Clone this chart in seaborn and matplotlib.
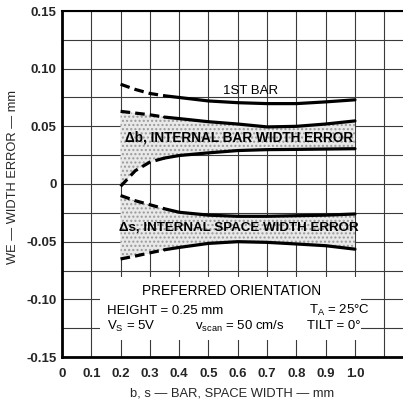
import matplotlib
matplotlib.use("Agg")
import matplotlib.pyplot as plt
import seaborn as sns
import numpy as np
import pandas as pd
from matplotlib.patches import Rectangle

# ---- data ----
width_mm = [0.2, 0.25, 0.3, 0.35, 0.4, 0.5, 0.6, 0.7, 0.8, 0.9, 1.0]
first_bar = [0.0865, 0.082, 0.0785, 0.0765, 0.075, 0.072, 0.0705, 0.0697, 0.0697, 0.0712, 0.073]
bar_upper = [0.063, 0.0615, 0.060, 0.058, 0.0567, 0.054, 0.052, 0.0495, 0.050, 0.052, 0.0547]
bar_lower = [-0.002, 0.0115, 0.019, 0.0225, 0.0247, 0.027, 0.029, 0.0298, 0.030, 0.0303, 0.0306]
space_upper = [-0.010, -0.0145, -0.018, -0.0215, -0.0245, -0.027, -0.028, -0.028, -0.0275, -0.027, -0.026]
space_lower = [-0.065, -0.0625, -0.0597, -0.057, -0.055, -0.0515, -0.050, -0.0506, -0.052, -0.0535, -0.0565]
n_dashed = 4  # first points drawn dashed (extrapolated part)

x_ticks = [0, 0.1, 0.2, 0.3, 0.4, 0.5, 0.6, 0.7, 0.8, 0.9, 1.0]
x_tick_labels = ["0", "0.1", "0.2", "0.3", "0.4", "0.5", "0.6", "0.7", "0.8", "0.9", "1.0"]
y_ticks = [-0.15, -0.10, -0.05, 0, 0.05, 0.10, 0.15]
y_tick_labels = ["-0.15", "-0.10", "-0.05", "0", "0.05", "0.10", "0.15"]

sns.set_theme(style="white")
plt.rcParams["font.family"] = ["Liberation Sans", "DejaVu Sans"]

fig = plt.figure(figsize=(4.03, 4.03), dpi=100)
ax = fig.add_axes([62 / 403, 46 / 403, 341 / 403, 346 / 403])

df = pd.DataFrame({"x": width_mm, "first": first_bar, "bu": bar_upper, "bl": bar_lower,
                   "su": space_upper, "sl": space_lower})

# shaded error bands
for lo, hi in (("bl", "bu"), ("sl", "su")):
    ax.fill_between(df["x"], df[lo], df[hi], facecolor="#e9e9e9", edgecolor="#9a9a9a",
                    hatch="....", linewidth=0, zorder=1)

for col in ("first", "bu", "bl", "su", "sl"):
    dpart = df.iloc[:n_dashed]
    spart = df.iloc[n_dashed - 1:]
    sns.lineplot(x=dpart["x"], y=dpart[col], ax=ax, color="black", lw=2.3,
                 linestyle=(0, (3, 1.6)), zorder=3)
    sns.lineplot(x=spart["x"], y=spart[col], ax=ax, color="black", lw=2.3, zorder=3)

ax.set_xlim(0, 1.164)
ax.set_ylim(-0.15, 0.15)
ax.set_xticks(x_ticks + [1.1])
ax.set_xticklabels(x_tick_labels + [""])
ax.set_yticks(y_ticks)
ax.set_yticklabels(y_tick_labels)
ax.set_yticks([-0.125, -0.075, -0.025, 0.025, 0.075, 0.125], minor=True)
ax.grid(which="both", color="#3a3a3a", lw=0.8)
ax.set_axisbelow(True)
ax.tick_params(axis="both", which="both", length=0, labelsize=9.5)
ax.tick_params(axis="y", pad=4)
ax.tick_params(axis="x", pad=8)
for lab in ax.get_xticklabels() + ax.get_yticklabels():
    lab.set_fontweight("bold")

for side in ("left", "bottom"):
    ax.spines[side].set_linewidth(2.0)
    ax.spines[side].set_color("black")
ax.spines["top"].set_linewidth(1.5)
ax.spines["top"].set_color("black")
ax.spines["right"].set_visible(False)

# white area behind the conditions block
ax.add_patch(Rectangle((0.13, -0.135), 0.89, 0.054, facecolor="white", edgecolor="none", zorder=1.5))

tk = dict(fontsize=9.5, color="black", zorder=4)
ax.text(0.645, 0.081, "1ST BAR", ha="center", va="center", **tk)
ax.text(0.604, 0.040, "Δb, INTERNAL BAR WIDTH ERROR", ha="center", va="center",
        fontweight="bold", fontsize=9.8, color="black", zorder=4)
ax.text(0.604, -0.038, "Δs, INTERNAL SPACE WIDTH ERROR", ha="center", va="center",
        fontweight="bold", fontsize=9.6, color="black", zorder=4)
ax.text(0.58, -0.0925, "PREFERRED ORIENTATION", ha="center", va="center", fontsize=9.8,
        color="black", zorder=4)
ax.text(0.153, -0.110, "HEIGHT = 0.25 mm", ha="left", va="center", **tk)
ax.text(0.153, -0.1235, r"V$_\mathregular{S}$ = 5V", ha="left", va="center", **tk)
ax.text(0.455, -0.1235, r"v$_\mathregular{scan}$ = 50 cm/s", ha="left", va="center", **tk)
ax.text(0.843, -0.110, r"T$_\mathregular{A}$ = 25°C", ha="left", va="center", **tk)
ax.text(0.838, -0.1235, "TILT = 0°", ha="left", va="center", **tk)

ax.set_xlabel("b, s — BAR, SPACE WIDTH — mm", fontsize=9.3)
ax.xaxis.set_label_coords(0.5, -0.088)
ax.set_ylabel("WE — WIDTH ERROR — mm", fontsize=9.3)
ax.yaxis.set_label_coords(-0.125, 0.52)

fig.savefig("out.png", dpi=100)
